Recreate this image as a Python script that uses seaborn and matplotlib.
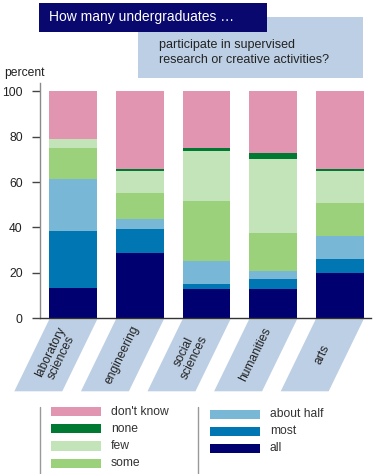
import numpy as np
import pandas as pd
import seaborn as sns
import matplotlib
matplotlib.use("Agg")
import matplotlib.pyplot as plt
import matplotlib.transforms as mtransforms
from matplotlib.patches import Rectangle, Polygon
from matplotlib.lines import Line2D

# data (percent of undergraduates, bottom to top)
categories = ["laboratory\nsciences", "engineering", "social\nsciences", "humanities", "arts"]
levels = ["all", "most", "about half", "some", "few", "none", "don't know"]
all_ = [13.2, 28.6, 13.1, 13.1, 19.8]
most = [25.3, 10.8, 2.0, 4.2, 6.3]
about_half = [22.9, 4.4, 10.2, 3.7, 10.2]
some = [13.6, 11.4, 26.4, 16.6, 14.5]
few = [4.1, 9.7, 22.0, 32.7, 14.1]
none = [0.0, 1.0, 1.2, 2.4, 1.0]
dont_know = [20.9, 34.1, 25.1, 27.3, 34.1]
yticks = [0, 20, 40, 60, 80, 100]

colors = {
    "all": "#000070",
    "most": "#0077b2",
    "about half": "#78b8d6",
    "some": "#9bd17a",
    "few": "#c3e4b8",
    "none": "#007a33",
    "don't know": "#e295b0",
}
legend_left = ["don't know", "none", "few", "some"]
legend_right = ["about half", "most", "all"]

sns.set_style("white")
plt.rcParams["font.family"] = ["Liberation Sans", "DejaVu Sans"]
FS = 8.7
W, H = 375, 474

series = [all_, most, about_half, some, few, none, dont_know]
df = pd.DataFrame({lvl: vals for lvl, vals in zip(levels, series)}, index=categories)
cum = df.cumsum(axis=1)

fig = plt.figure(figsize=(W / 100, H / 100), dpi=100)
ax = fig.add_axes([40 / W, 1 - 318.3 / H, (371 - 40) / W, (318.3 - 83.3) / H])

# stacked bars: draw cumulative tops from the top level down
for lvl in reversed(levels):
    sns.barplot(x=cum.index, y=cum[lvl].values, color=colors[lvl], saturation=1,
                width=0.72, errorbar=None, ax=ax, linewidth=0)

ax.set_xlim(-0.5, 4.47)
ax.set_ylim(0, 103.5)
ax.set_yticks(yticks)
ax.set_yticklabels([str(t) for t in yticks], fontsize=FS, color="#222222")
ax.set_xticks([])
ax.set_xlabel("")
ax.set_ylabel("")
ax.tick_params(axis="y", left=True, length=6, width=1, color="#444444", pad=6.5)
for s in ["top", "right"]:
    ax.spines[s].set_visible(False)
ax.spines["left"].set_color("#8a8a8a")
ax.spines["left"].set_linewidth(1)
ax.spines["bottom"].set_color("#333333")
ax.spines["bottom"].set_linewidth(1)

# slanted category label boxes
trans = mtransforms.blended_transform_factory(ax.transData, ax.transAxes)
hbox = 73 / 235.0
shift = 35 / 66.6
for i, cat in enumerate(categories):
    poly = Polygon([(i - 0.36, -0.004), (i + 0.36, -0.004),
                    (i + 0.36 - shift, -hbox), (i - 0.36 - shift, -hbox)],
                   closed=True, transform=trans, clip_on=False,
                   facecolor="#bdcfe5", edgecolor="none")
    ax.add_patch(poly)
    ax.text(i - shift / 2, -hbox / 2, cat, transform=trans, rotation=64,
            ha="center", va="center", multialignment="center",
            rotation_mode="anchor", fontsize=FS, color="#222222",
            linespacing=1.05)

# title boxes
def px_rect(x0, y0, x1, y1, color):
    fig.add_artist(Rectangle((x0 / W, 1 - y1 / H), (x1 - x0) / W, (y1 - y0) / H,
                             transform=fig.transFigure, facecolor=color,
                             edgecolor="none"))

px_rect(138.3, 16.7, 362.7, 77.7, "#bdcfe5")
px_rect(38.7, 2.7, 267.3, 32.3, "#08086e")
fig.text(49 / W, 1 - 17.5 / H, "How many undergraduates \u2026", color="white",
         fontsize=10, ha="left", va="center")
fig.text(159 / W, 1 - 45 / H, "participate in supervised", color="#222222",
         fontsize=9, ha="left", va="center")
fig.text(159 / W, 1 - 60 / H, "research or creative activities?", color="#222222",
         fontsize=9, ha="left", va="center")
fig.text(4 / W, 1 - 73 / H, "percent", color="#222222", fontsize=FS,
         ha="left", va="center")

# legend
for xl in [40, 198.3]:
    fig.add_artist(Line2D([xl / W, xl / W], [1 - 406.7 / H, 0], transform=fig.transFigure,
                          color="#999999", linewidth=1))
left_y = [411.7, 428.7, 445.9, 463.5]
right_y = [414.3, 431.3, 448.3]
for lab, yc in zip(legend_left, left_y):
    px_rect(50.7, yc - 4.7, 101, yc + 4.7, colors[lab])
    fig.text(111 / W, 1 - yc / H, lab, fontsize=FS, color="#333333",
             ha="left", va="center")
for lab, yc in zip(legend_right, right_y):
    px_rect(210, yc - 4.7, 260, yc + 4.7, colors[lab])
    fig.text(270 / W, 1 - yc / H, lab, fontsize=FS, color="#333333",
             ha="left", va="center")

fig.savefig("out.png", dpi=100)
